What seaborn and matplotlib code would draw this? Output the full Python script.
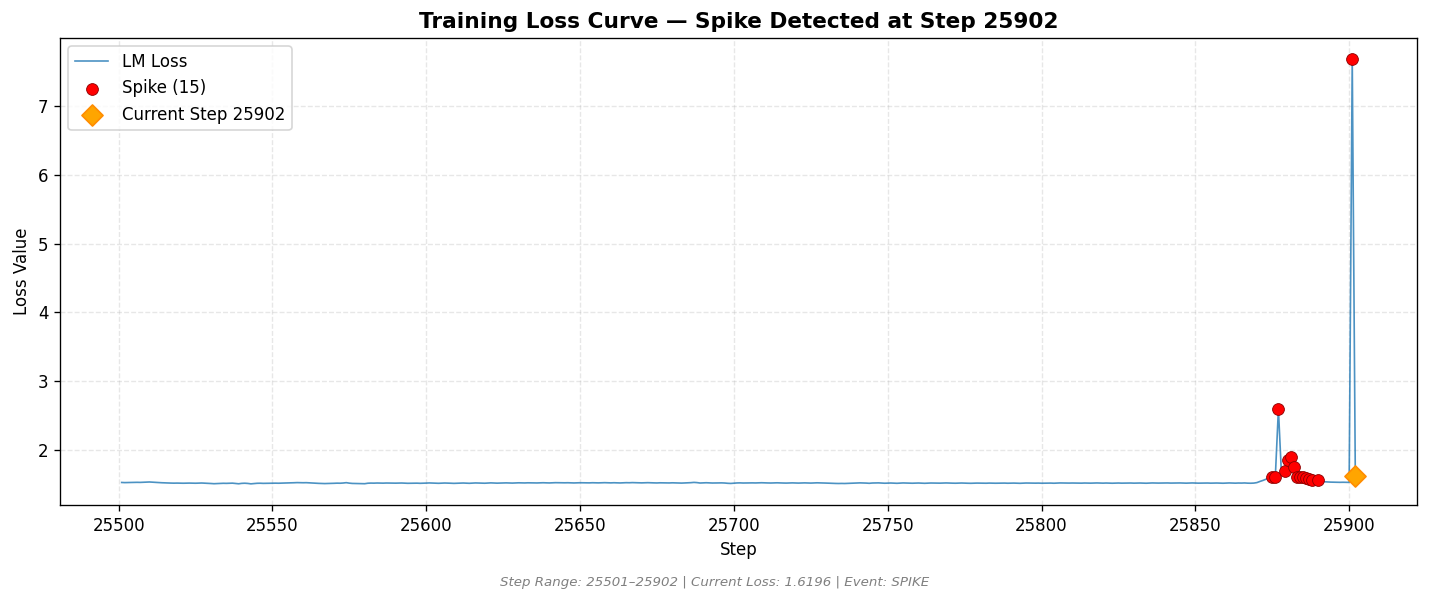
import numpy as np
import matplotlib
matplotlib.use("Agg")
import matplotlib.pyplot as plt
import seaborn as sns

# steps 25501..25902
steps = np.arange(25501, 25903)

# loss per step (rows of 10)
loss = [
    1.530, 1.528, 1.529, 1.531, 1.530, 1.532, 1.531, 1.533, 1.535, 1.537,
    1.534, 1.532, 1.529, 1.526, 1.524, 1.522, 1.521, 1.520, 1.521, 1.520,
    1.519, 1.520, 1.521, 1.520, 1.519, 1.521, 1.522, 1.520, 1.519, 1.515,
    1.512, 1.514, 1.516, 1.518, 1.517, 1.519, 1.520, 1.516, 1.511, 1.517,
    1.519, 1.516, 1.510, 1.514, 1.518, 1.519, 1.517, 1.518, 1.520, 1.521,
    1.520, 1.519, 1.521, 1.522, 1.523, 1.524, 1.526, 1.528, 1.527, 1.526,
    1.527, 1.525, 1.522, 1.519, 1.517, 1.515, 1.514, 1.515, 1.516, 1.518,
    1.520, 1.519, 1.522, 1.527, 1.520, 1.516, 1.515, 1.514, 1.513, 1.512,
    1.519, 1.521, 1.520, 1.522, 1.521, 1.520, 1.522, 1.521, 1.519, 1.520,
    1.521, 1.522, 1.520, 1.518, 1.519, 1.521, 1.520, 1.518, 1.519, 1.521,
    1.523, 1.521, 1.519, 1.518, 1.520, 1.522, 1.521, 1.519, 1.517, 1.519,
    1.521, 1.522, 1.520, 1.518, 1.521, 1.523, 1.522, 1.520, 1.519, 1.521,
    1.524, 1.522, 1.520, 1.521, 1.523, 1.524, 1.522, 1.521, 1.523, 1.525,
    1.524, 1.523, 1.525, 1.524, 1.522, 1.523, 1.525, 1.526, 1.524, 1.523,
    1.525, 1.527, 1.526, 1.524, 1.525, 1.526, 1.524, 1.523, 1.525, 1.526,
    1.525, 1.523, 1.524, 1.526, 1.525, 1.524, 1.526, 1.527, 1.525, 1.524,
    1.526, 1.525, 1.523, 1.525, 1.527, 1.526, 1.528, 1.527, 1.525, 1.524,
    1.526, 1.527, 1.525, 1.524, 1.523, 1.525, 1.524, 1.522, 1.523, 1.525,
    1.524, 1.522, 1.521, 1.523, 1.525, 1.527, 1.531, 1.528, 1.522, 1.524,
    1.526, 1.524, 1.522, 1.523, 1.525, 1.524, 1.522, 1.518, 1.516, 1.520,
    1.523, 1.524, 1.522, 1.523, 1.525, 1.524, 1.523, 1.525, 1.526, 1.524,
    1.523, 1.522, 1.524, 1.525, 1.523, 1.522, 1.521, 1.523, 1.524, 1.522,
    1.521, 1.523, 1.524, 1.522, 1.521, 1.523, 1.525, 1.524, 1.522, 1.521,
    1.519, 1.517, 1.516, 1.515, 1.516, 1.515, 1.517, 1.519, 1.521, 1.522,
    1.524, 1.523, 1.521, 1.518, 1.522, 1.523, 1.524, 1.522, 1.519, 1.521,
    1.522, 1.520, 1.518, 1.521, 1.523, 1.522, 1.520, 1.519, 1.521, 1.522,
    1.520, 1.518, 1.520, 1.522, 1.521, 1.519, 1.520, 1.522, 1.523, 1.521,
    1.520, 1.519, 1.521, 1.522, 1.520, 1.519, 1.518, 1.520, 1.521, 1.520,
    1.518, 1.519, 1.521, 1.520, 1.519, 1.520, 1.522, 1.521, 1.519, 1.520,
    1.521, 1.519, 1.518, 1.520, 1.522, 1.521, 1.519, 1.520, 1.521, 1.519,
    1.520, 1.522, 1.521, 1.519, 1.521, 1.523, 1.522, 1.520, 1.521, 1.522,
    1.521, 1.519, 1.520, 1.522, 1.521, 1.520, 1.522, 1.523, 1.521, 1.520,
    1.522, 1.521, 1.519, 1.521, 1.522, 1.520, 1.521, 1.523, 1.522, 1.520,
    1.521, 1.522, 1.520, 1.519, 1.521, 1.523, 1.522, 1.521, 1.522, 1.524,
    1.523, 1.521, 1.522, 1.524, 1.523, 1.521, 1.520, 1.522, 1.523, 1.521,
    1.520, 1.521, 1.523, 1.522, 1.520, 1.521, 1.522, 1.520, 1.519, 1.521,
    1.523, 1.521, 1.520, 1.522, 1.521, 1.523, 1.520, 1.519, 1.521, 1.528,
    1.545, 1.560, 1.578, 1.600, 1.612, 1.615, 2.596, 1.640, 1.695, 1.855,
    1.900, 1.750, 1.612, 1.615, 1.605, 1.590, 1.575, 1.565, 1.555, 1.565,
    1.548, 1.540, 1.537, 1.535, 1.534, 1.533, 1.532, 1.533, 1.532, 1.531,
    7.680, 1.6196,
]

spike_steps = [25875, 25876, 25877, 25879, 25880, 25881, 25882, 25883,
               25884, 25885, 25886, 25887, 25888, 25890, 25901]
current_step = 25902

loss = np.array(loss)
spike_vals = loss[np.searchsorted(steps, spike_steps)]
current_loss = loss[-1]

fig, ax = plt.subplots(figsize=(1429 / 120, 602 / 120), dpi=120)

sns.lineplot(x=steps, y=loss, ax=ax, color="#1f77b4", linewidth=1.0,
             alpha=0.8, label="LM Loss")
sns.scatterplot(x=spike_steps, y=spike_vals, ax=ax, color="red",
                edgecolor="darkred", linewidth=0.5, s=50, zorder=5,
                label=f"Spike ({len(spike_steps)})")
sns.scatterplot(x=[current_step], y=[current_loss], ax=ax, color="orange",
                edgecolor="darkorange", linewidth=1, marker="D", s=80,
                zorder=6, label=f"Current Step {current_step}")

ax.set_title(f"Training Loss Curve \u2014 Spike Detected at Step {current_step}",
             fontsize=13, fontweight="bold")
ax.set_xlabel("Step")
ax.set_ylabel("Loss Value")
ax.grid(True, linestyle="--", alpha=0.3)
ax.legend(loc="upper left")

fig.text(0.5, 0.033,
         f"Step Range: {steps[0]}\u2013{steps[-1]} | Current Loss: {current_loss:.4f} | Event: SPIKE",
         ha="center", va="center", fontsize=8, style="italic", color="gray")

plt.subplots_adjust(left=0.042, right=0.9916, top=0.937, bottom=0.161)
plt.savefig("out.png", dpi=120)
